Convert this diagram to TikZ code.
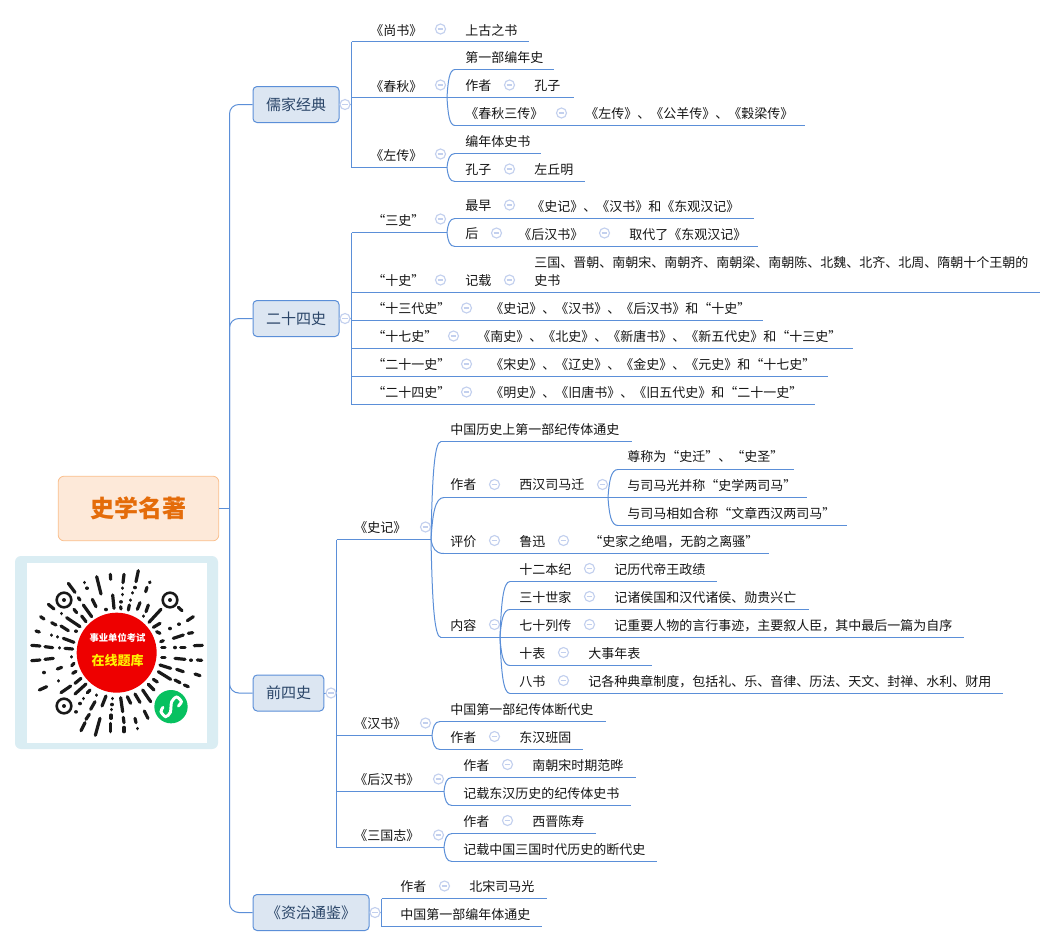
\documentclass[tikz,border=0pt]{standalone}
\usepackage{fontspec}
\setmainfont{Noto Sans CJK SC}
\usetikzlibrary{calc}
\definecolor{ln}{HTML}{5B8FD8}
\definecolor{togc}{HTML}{C3D0EE}
\definecolor{mainfill}{HTML}{DCE6F2}
\definecolor{maintext}{HTML}{2A4568}
\definecolor{rootline}{HTML}{FAC08F}
\definecolor{rootfill}{HTML}{FDE9D9}
\definecolor{roottext}{HTML}{E46C0A}
\definecolor{qrframe}{HTML}{DAEDF3}
\definecolor{qrred}{HTML}{EE0000}
\definecolor{qrgreen}{HTML}{07C160}
\newcounter{autoid}
\tikzset{
  x=0.75pt,y=-0.75pt,
  link/.style={draw=ln,line width=0.75pt},
  txt/.style={anchor=base west,inner sep=0pt,yshift=-4.1pt,text=black!92,align=left,font=\fontsize{9.75}{13.5}\selectfont},
  mainbox/.style={draw=ln,line width=0.75pt,fill=mainfill,rounded corners=3pt,inner sep=0pt,minimum height=27pt,text=maintext,font=\fontsize{11.25}{13}\selectfont},
  togbox/.style={circle,draw=togc,line width=0.85pt,fill=white,inner sep=0pt,minimum size=7.5pt,
    path picture={\draw[togc,line width=0.85pt] ($(path picture bounding box.center)+(-2.2pt,0)$)--($(path picture bounding box.center)+(2.2pt,0)$);}},
  dashln/.style={line width=2.4pt,line cap=round,black!90},
  finder/.style={circle,draw=black!90,line width=1.9pt,fill=white,inner sep=0pt,minimum size=11pt},
}
\newcommand{\Tx}[3]{\stepcounter{autoid}\node[txt] (t\theautoid) at (#1,#2) {#3};}
\newcommand{\Tg}[2]{\stepcounter{autoid}\node[togbox] (g\theautoid) at (#1,#2) {};}
\newcommand{\Ln}[4]{\coordinate (#1) at (#2,#4); \coordinate (#1e) at (#3,#4); \draw[link] (#1)--(#1e);}
\newcommand{\Cv}[2]{\draw[link] let \p1=(#1),\p2=(#2) in (\p1) .. controls ({\x1+0.12*(\x2-\x1)},{\y1+0.6*(\y2-\y1)}) and ({\x1+0.3*(\x2-\x1)},\y2) .. (\p2);}
\begin{document}
\begin{tikzpicture}
\useasboundingbox (0,0) rectangle (1056,947);
\fill[white] (0,0) rectangle (1056,947);

% ---------- QR ----------
\fill[qrframe,rounded corners=4.5pt] (15,556) rectangle (218,749);
\fill[white] (27,563) rectangle (207,743);
\begin{scope}[shift={(0,470)},x=0.25pt,y=-0.25pt]
\foreach \a/\b/\c/\d in {415/302/408/335,372/313/369/338,331/313/332/328,290/320/303/372,253/337/253/338,261/354/261/355,205/340/225/367,450/336/449/338,441/352/437/365,405/352/405/353,398/368/398/369,392/390/392/391,368/354/368/355,367/373/367/374,363/395/363/396,338/375/342/415,277/388/288/410,235/383/240/390,250/405/275/440,362/410/363/417,388/405/385/420,420/398/412/418,445/405/438/425,318/418/318/419,222/418/230/428,245/438/258/455,145/403/162/417,122/440/132/447,185/430/185/431,200/443/240/470,483/418/447/457,430/438/430/439,535/412/546/422,580/440/562/452,480/460/460/472,510/475/510/476,537/462/537/463,155/458/168/465,183/468/205/482,228/483/228/484,108/483/118/486,155/495/155/496,172/500/172/501,190/505/222/517,480/490/470/485,520/505/550/495,565/490/578/488,490/512/482/515,95/526/120/528,135/530/158/533,178/533/178/534,195/535/218/537,485/533/495/533,525/532/525/533,542/532/555/532,583/527/607/526,95/572/120/570,135/568/160/565,215/560/215/561,485/562/495/562,525/565/555/568,573/570/573/571,592/570/605/571,215/587/222/580,172/597/185/592,132/607/132/608,480/585/512/595,530/598/550/605,585/612/600/617,218/610/228/604,475/605/512/628,525/630/540/638,553/645/565/650,175/632/175/633,225/640/243/625,118/660/140/650,183/668/212/648,225/672/258/642,460/628/472/636,445/643/462/660,428/660/452/695,405/672/420/697,382/680/392/700,362/683/368/725,338/685/338/686,336/703/336/704,335/718/335/719,333/735/333/745,332/760/332/785,290/675/290/676,270/660/262/668,318/678/306/708,250/685/250/686,240/700/240/701,285/695/272/718,228/725/228/726,268/733/258/748,300/745/286/796,255/758/243/782,370/742/372/758,372/772/372/785,405/745/408/758,412/775/412/776,433/723/444/745}
  \draw[dashln] (\a,\b)--(\c,\d);
\foreach \p/\q/\n in {192/390/fa,510/390/fb,192/708/fc}{
  \node[finder] (\n) at (\p,\q) {};
  \fill[black!90] (\n.center) circle (1.5pt);
}
\fill[qrred] (350,548) circle (30pt);
\fill[qrgreen] (513,710) circle (12.5pt);
\draw[white,line width=2.2pt,line cap=round] plot[smooth] coordinates {(489,712) (483,725) (497,740) (511,727) (515,695) (530,681) (544,695) (535,708)};
\end{scope}
\node[text=white,font=\fontsize{7}{8}\selectfont\bfseries,inner sep=0pt] (qra) at (117.5,638) {事业单位考试};
\node[text=yellow,font=\fontsize{9.75}{11}\selectfont\bfseries,inner sep=0pt] (qrb) at (117.5,661) {在线题库};

% ---------- root and main topics ----------
\node[draw=rootline,fill=rootfill,rounded corners=4.5pt,minimum width=120.5pt,minimum height=48.5pt,inner sep=0pt,text=roottext,font=\fontsize{18}{20}\selectfont\bfseries,line width=0.6pt] (root) at (138.5,508.5) {史学名著};
\node[mainbox,minimum width=64.5pt] (a1) at (296,104.5) {儒家经典};
\node[mainbox,minimum width=64.5pt] (a2) at (296,318.5) {二十四史};
\node[mainbox,minimum width=53pt] (a3) at (288.5,693) {前四史};
\node[mainbox,minimum width=87pt] (a4) at (311,912.5) {《资治通鉴》};
\coordinate (T) at (229.5,508.5);
\draw[link] (root.east)--(T);
\draw[link,rounded corners=7pt] (a1.west)-|(T);
\draw[link,rounded corners=7pt] (a2.west)-|(T);
\draw[link,rounded corners=7pt] (a3.west)-|(T);
\draw[link,rounded corners=7pt] (a4.west)-|(T);

% ---------- 儒家经典 ----------
\Ln{b1}{351.5}{529}{41.5}
\Ln{b2}{351.5}{574}{97.5}
\Ln{b3}{351.5}{447}{167.5}
\draw[link] (b1)--(b3);
\draw[link] (a1.east)--(351.5,104.5);
\Tg{345}{104.5}
\Tx{370}{30}{《尚书》}\Tg{440.5}{29}\Tx{465}{30}{上古之书}
\Tx{370}{86}{《春秋》}\Tg{440.5}{85}
\coordinate (f1) at (447,97.5);
\Ln{b21}{455}{554}{69.5}\Cv{f1}{b21}
\Ln{b22}{455}{805}{125.5}\Cv{f1}{b22}
\Tx{465}{57}{第一部编年史}
\Tx{465}{85}{作者}\Tg{509.5}{85}\Tx{534}{85}{孔子}
\Tx{465}{113}{《春秋三传》}\Tg{561.5}{113}\Tx{585}{113}{《左传》、《公羊传》、《穀梁传》}
\Tx{370}{155}{《左传》}\Tg{440.5}{154}
\coordinate (f2) at (447,167.5);
\Ln{b31}{455}{541}{153.5}\Cv{f2}{b31}
\Ln{b32}{455}{585}{181.5}\Cv{f2}{b32}
\Tx{465}{141}{编年体史书}
\Tx{465}{169}{孔子}\Tg{509.5}{169}\Tx{534}{169}{左丘明}

% ---------- 二十四史 ----------
\Ln{c1}{351.5}{447}{232.5}
\Ln{c2}{351.5}{1040}{292.5}
\Ln{c3}{351.5}{763}{320.5}
\Ln{c4}{351.5}{853}{348.5}
\Ln{c5}{351.5}{828}{376.5}
\Ln{c6}{351.5}{815}{404.5}
\draw[link] (c1)--(c6);
\draw[link] (a2.east)--(351.5,318.5);
\Tg{345}{318.5}
\Tx{372}{220}{“三史”}\Tg{440.5}{219}
\Ln{c11}{455}{754}{218.5}\Cv{c1e}{c11}
\Ln{c12}{455}{758}{246.5}\Cv{c1e}{c12}
\Tx{465}{205}{最早}\Tg{509.5}{205}\Tx{531}{206}{《史记》、《汉书》和《东观汉记》}
\Tx{465}{233}{后}\Tg{496.5}{233}\Tx{518}{234}{《后汉书》}\Tg{604.5}{233}\Tx{629}{234}{取代了《东观汉记》}
\Tx{372}{280}{“十史”}\Tg{440.5}{280}\Tx{465}{280}{记载}\Tg{509.5}{280}
\Tx{534}{262}{三国、晋朝、南朝宋、南朝齐、南朝梁、南朝陈、北魏、北齐、北周、隋朝十个王朝的}
\Tx{534}{280}{史书}
\Tx{372}{308}{“十三代史”}\Tg{466.5}{308}\Tx{490}{308}{《史记》、《汉书》、《后汉书》和“十史”}
\Tx{372}{336}{“十七史”}\Tg{453.5}{336}\Tx{477}{336}{《南史》、《北史》、《新唐书》、《新五代史》和“十三史”}
\Tx{372}{364}{“二十一史”}\Tg{466.5}{364}\Tx{490}{364}{《宋史》、《辽史》、《金史》、《元史》和“十七史”}
\Tx{372}{392}{“二十四史”}\Tg{466.5}{392}\Tx{490}{392}{《明史》、《旧唐书》、《旧五代史》和“二十一史”}

% ---------- 前四史 ----------
\Ln{d1}{336.5}{431}{539.5}
\Ln{d2}{336.5}{432}{735.5}
\Ln{d3}{336.5}{444}{791.5}
\Ln{d4}{336.5}{444}{847.5}
\draw[link] (d1)--(d4);
\draw[link] (a3.east)--(336.5,693);
\Tg{331}{693}
% 史记
\Tx{354}{527}{《史记》}\Tg{425.5}{527}
\Ln{e1}{441}{632}{441.5}\Cv{d1e}{e1}
\Ln{e2}{444}{608}{497.5}\Cv{d1e}{e2}
\Ln{e3}{444}{769}{553.5}\Cv{d1e}{e3}
\Ln{e4}{441}{500}{637.5}\Cv{d1e}{e4}
\Tx{450}{429}{中国历史上第一部纪传体通史}
\Tx{450}{484}{作者}\Tg{494.5}{484.5}\Tx{519}{484}{西汉司马迁}\Tg{602.5}{484.5}
\Ln{e21}{618}{794}{469.5}\Cv{e2e}{e21}
\Ln{e22}{608}{807}{497.5}
\Ln{e23}{618}{847}{525.5}\Cv{e2e}{e23}
\Tx{627}{456}{尊称为“史迁”、“史圣”}
\Tx{627}{485}{与司马光并称“史学两司马”}
\Tx{627}{513}{与司马相如合称“文章西汉两司马”}
\Tx{450}{541}{评价}\Tg{494.5}{540.5}\Tx{519}{541}{鲁迅}\Tg{563.5}{540.5}\Tx{589}{541}{“史家之绝唱，无韵之离骚”}
\Tx{450}{625}{内容}\Tg{494.5}{624.5}
\Ln{e41}{510}{717}{581.5}\Cv{e4e}{e41}
\Ln{e42}{510}{809}{609.5}\Cv{e4e}{e42}
\Ln{e43}{500}{964}{637.5}
\Ln{e44}{510}{652}{665.5}\Cv{e4e}{e44}
\Ln{e45}{510}{1003}{693.5}\Cv{e4e}{e45}
\Tx{519}{569}{十二本纪}\Tg{589.5}{568.5}\Tx{614}{569}{记历代帝王政绩}
\Tx{519}{597}{三十世家}\Tg{589.5}{596.5}\Tx{614}{597}{记诸侯国和汉代诸侯、勋贵兴亡}
\Tx{519}{625}{七十列传}\Tg{589.5}{624.5}\Tx{614}{625}{记重要人物的言行事迹，主要叙人臣，其中最后一篇为自序}
\Tx{519}{653}{十表}\Tg{563.5}{652.5}\Tx{588}{653}{大事年表}
\Tx{519}{681}{八书}\Tg{563.5}{680.5}\Tx{588}{681}{记各种典章制度，包括礼、乐、音律、历法、天文、封禅、水利、财用}
% 汉书
\Tx{354}{723}{《汉书》}\Tg{425.5}{723}
\Ln{e51}{440}{606}{721.5}\Cv{d2e}{e51}
\Ln{e52}{440}{583}{749.5}\Cv{d2e}{e52}
\Tx{450}{709}{中国第一部纪传体断代史}
\Tx{450}{737}{作者}\Tg{494.5}{736.5}\Tx{519}{737}{东汉班固}
% 后汉书
\Tx{354}{779}{《后汉书》}\Tg{438.5}{779}
\Ln{e61}{452}{636}{777.5}\Cv{d3e}{e61}
\Ln{e62}{452}{631}{805.5}\Cv{d3e}{e62}
\Tx{463}{765}{作者}\Tg{507.5}{764.5}\Tx{532}{765}{南朝宋时期范晔}
\Tx{463}{793}{记载东汉历史的纪传体史书}
% 三国志
\Tx{354}{835}{《三国志》}\Tg{438.5}{835}
\Ln{e71}{452}{596}{833.5}\Cv{d4e}{e71}
\Ln{e72}{452}{657}{861.5}\Cv{d4e}{e72}
\Tx{463}{821}{作者}\Tg{507.5}{820.5}\Tx{532}{821}{西晋陈寿}
\Tx{463}{849}{记载中国三国时代历史的断代史}

% ---------- 资治通鉴 ----------
\Ln{f41}{381.5}{547}{898.5}
\Ln{f42}{381.5}{542}{926.5}
\draw[link] (f41)--(f42);
\draw[link] (a4.east)--(381.5,912.5);
\Tg{375}{912.5}
\Tx{400}{886}{作者}\Tg{444.5}{886}\Tx{469}{886}{北宋司马光}
\Tx{400}{914}{中国第一部编年体通史}
\end{tikzpicture}
\end{document}
